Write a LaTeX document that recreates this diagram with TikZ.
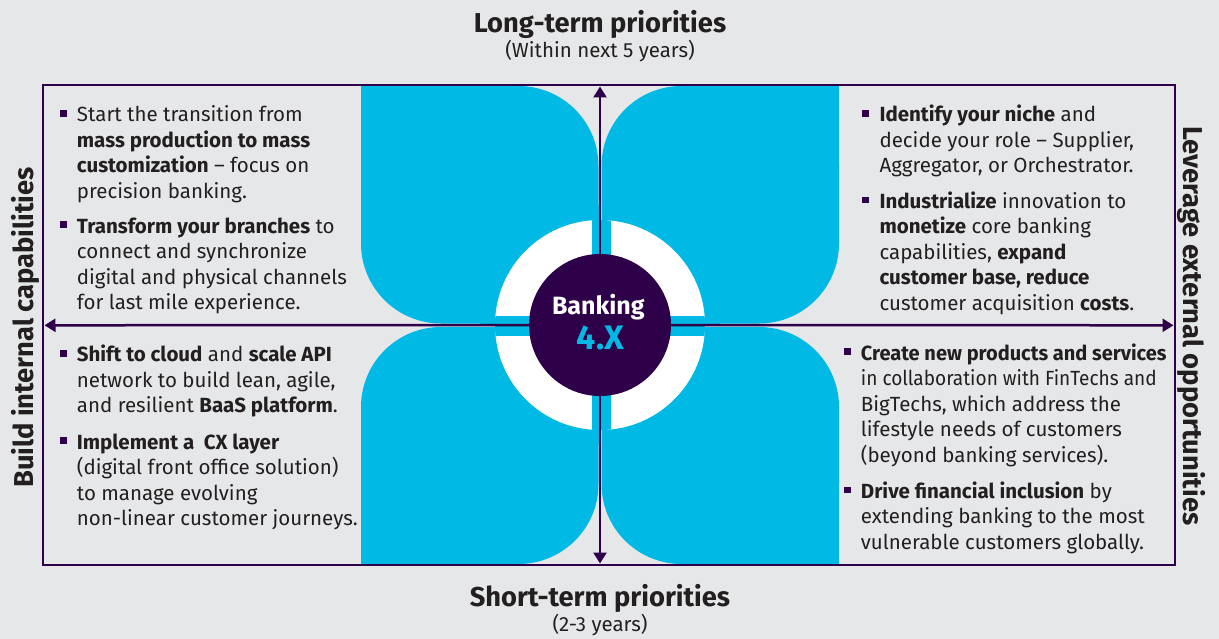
\documentclass[tikz,border=0pt]{standalone}
\usepackage{fontspec}
\usepackage{graphicx}
\setmainfont{Fira Sans}
\usetikzlibrary{arrows.meta}
\definecolor{bg}{HTML}{E6E7E9}
\definecolor{cy}{HTML}{00B9E5}
\definecolor{dp}{HTML}{2E0049}
\definecolor{tx}{HTML}{231F20}
\newcommand\qbullet{\strut\llap{\textcolor{dp}{\rule[5pt]{6.8pt}{6.8pt}}\hspace{10.3pt}}}
\begin{document}
\begin{tikzpicture}[x=1pt,y=-1pt,
  bodytxt/.style={anchor=north west, align=left, inner sep=0pt, text=tx, font=\fontsize{20.5}{25.5}\selectfont},
  headtxt/.style={anchor=base, inner sep=0pt, text=tx, font=\bfseries\fontsize{27.3}{32}\selectfont},
  subtxt/.style={anchor=base, inner sep=0pt, text=tx, font=\fontsize{20.5}{24}\selectfont},
  axis/.style={draw=dp, line width=2.5pt, -{Triangle[length=11pt,width=13pt]}},
  petal/.style={fill=cy, rounded corners=80pt}]
\fill[bg] (0,0) rectangle (1219,639);
\useasboundingbox (0,0) rectangle (1219,639);
% petals
\fill[petal] (361,86) rectangle (598.5,323.5);
\fill[cy] (361,86) rectangle (480,205); \fill[cy] (480,205) rectangle (598.5,323.5);
\fill[petal] (601.5,86) rectangle (839,323.5);
\fill[cy] (720,86) rectangle (839,205); \fill[cy] (601.5,205) rectangle (720,323.5);
\fill[petal] (361,327) rectangle (598.5,564);
\fill[cy] (480,327) rectangle (598.5,445); \fill[cy] (361,445) rectangle (480,564);
\fill[petal] (601.5,327) rectangle (839,564);
\fill[cy] (601.5,327) rectangle (720,445); \fill[cy] (720,445) rectangle (839,564);
% ring
\fill[white] (600,325) circle[radius=105];
\begin{scope}
  \clip (600,325) circle[radius=105];
  \fill[cy] (591.5,215) rectangle (611,435);
  \fill[cy] (490,316) rectangle (710,336);
\end{scope}
% frame
\draw[dp, line width=2.5pt] (43,85) rectangle (1175,565);
% hub
\node[circle, fill=dp, minimum size=142pt, inner sep=0pt] (hub) at (600,325) {};
\coordinate (ttip) at (600,86.5);
\coordinate (btip) at (600,563.5);
\coordinate (ltip) at (44.5,325.3);
\coordinate (rtip) at (1173.5,325.3);
\draw[axis] (hub.north) -- (ttip);
\draw[axis] (hub.south) -- (btip);
\draw[axis] (hub.west) -- (ltip);
\draw[axis] (hub.east) -- (rtip);
\node[anchor=base, inner sep=0pt, text=white, font=\bfseries\fontsize{25}{30}\selectfont] (bank) at (598.3,314.3) {Banking};
\node[anchor=base, inner sep=0pt, text=cy, font=\bfseries\fontsize{34}{40}\selectfont] (fourx) at (600.5,349.3) {4.X};
% titles
\node[headtxt] (lt) at (600,33) {Long-term priorities};
\node[subtxt] (lts) at (600,57.5) {(Within next 5 years)};
\node[headtxt] (st) at (600,606.5) {Short-term priorities};
\node[subtxt] (sts) at (600,631.5) {(2-3 years)};
\node[headtxt, rotate=90] (bic) at (33,327.5) {Build internal capabilities};
\node[headtxt, rotate=-90] (leo) at (1183,326) {Leverage external opportunities};
% quadrant texts
\node[bodytxt] (tl1) at (76.7,103.8) {\qbullet Start the transition from\\ \textbf{mass production to mass}\\ \textbf{customization} – focus on\\ precision banking.};
\node[bodytxt] (tl2) at (76.7,215.1) {\qbullet\textbf{Transform your branches} to\\ connect and synchronize\\ digital and physical channels\\ for last mile experience.};
\node[bodytxt] (tr1) at (879.3,103.8) {\qbullet\textbf{Identify your niche} and\\ decide your role – Supplier,\\ Aggregator, or Orchestrator.};
\node[bodytxt] (tr2) at (879.3,190.4) {\qbullet\textbf{Industrialize} innovation to\\ \textbf{monetize} core banking\\ capabilities, \textbf{expand}\\ \textbf{customer base, reduce}\\ customer acquisition \textbf{costs}.};
\node[bodytxt] (bl1) at (76.7,343.8) {\qbullet\textbf{Shift to cloud} and \textbf{scale API}\\ network to build lean, agile,\\ and resilient \textbf{BaaS platform}.};
\node[bodytxt] (bl2) at (76.7,431.1) {\qbullet\textbf{Implement a\ \ CX layer}\\ (digital front office solution)\\ to manage evolving\\ non-linear customer journeys.};
\node[bodytxt] (br1) at (860.7,342.1) {\qbullet\scalebox{0.975}[1]{\textbf{Create new products and services}}\\ \scalebox{0.93}[1]{in collaboration with FinTechs and}\\ BigTechs, which address the\\ lifestyle needs of customers\\ (beyond banking services).};
\node[bodytxt] (br2) at (860.7,480.4) {\qbullet\textbf{Drive financial inclusion} by\\ extending banking to the most\\ vulnerable customers globally.};
\end{tikzpicture}
\end{document}
